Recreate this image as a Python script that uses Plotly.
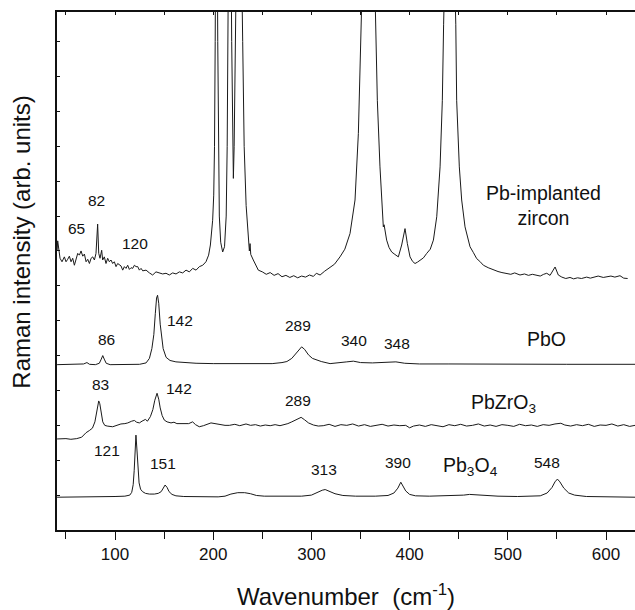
import plotly.graph_objects as go

# ---------------- data (wavenumber cm^-1, intensity arb. units, stacked) ----------------
zircon_x = [41, 41.6, 44.0, 46.0, 48.4, 50.1, 51.8, 53.5, 55.2, 56.9, 58.6, 60.3, 62.0, 63.7, 65.4, 67.1,
            68.8, 70.5, 72.2, 73.9, 75.6, 77.3, 79.0, 80.6, 82.3, 83.4, 84.7, 86.4, 87.4, 89.1, 90.8,
            92.5, 94.2, 95.9, 97.6, 99.3, 101.0, 102.7, 104.4, 106.1, 107.8, 109.5, 111.2, 112.9,
            114.6, 116.3, 118.0, 119.7, 121.4, 123.1, 124.8, 126.5, 128.2, 131.6, 135.0, 138.3,
            141.7, 145.1, 148.5, 151.9, 155.3, 158.7, 162.1, 165.5, 168.9, 172.3, 175.7, 179.1,
            182.5, 185.9, 189.3, 192.6, 195.3, 197.1, 198.4, 199.4, 200.5, 201.3, 202.0, 203.2,
            204.6, 205.2, 206.2, 207.6, 209.6, 211.5, 213.2, 214.2, 215.0, 216.8, 218.8, 219.8,
            220.5, 221.3, 222.2, 226.0, 230.0, 231.5, 233.5, 235.8, 236.8, 237.5, 238.2, 240.8,
            245.9, 250, 254, 258, 262, 266, 270, 274, 278, 282, 286, 290, 294, 298, 302, 305,
            308.8, 313.5, 318.9, 323.5, 329.1, 334, 339.3, 342, 344.4, 347.8, 350.2, 352.5, 357.5,
            363.5, 365.8, 367.1, 369.8, 371.5, 373.2, 374.0, 376.6, 379, 381.7, 385, 388.5,
            391.9, 395.3, 397.7, 400.4, 403, 405.5, 408, 410.6, 414, 417.4, 421, 424.2, 427.6,
            431.0, 433.3, 434.6, 440.8, 447.0, 447.9, 450.6, 453.0, 456.4, 459, 461.5, 465,
            468.3, 471.5, 475.1, 480, 485.3, 490, 494, 498.9, 503, 507, 512.4, 517, 521, 525,
            529.4, 533, 536.5, 539.6, 543, 546, 548.1, 551.4, 555, 559, 563.3, 567, 571, 575,
            580.3, 584, 588, 592, 597.2, 601, 605, 609, 614.2, 618, 622, 626, 629.5]
zircon_y = [8.02, 8.29, 7.79, 7.69, 7.83, 7.69, 7.76, 7.85, 7.69, 7.79, 7.59, 7.79, 7.93, 7.88, 8.00,
            7.85, 7.91, 7.69, 7.76, 7.64, 7.79, 7.83, 7.74, 7.93, 8.77, 7.93, 7.79, 8.02, 7.74,
            7.83, 7.64, 7.79, 7.69, 7.74, 7.64, 7.69, 7.55, 7.64, 7.59, 7.57, 7.45, 7.55, 7.50,
            7.59, 7.47, 7.52, 7.50, 7.59, 7.55, 7.55, 7.45, 7.50, 7.43, 7.45, 7.37, 7.31, 7.40,
            7.36, 7.34, 7.36, 7.31, 7.37, 7.34, 7.40, 7.37, 7.45, 7.40, 7.50, 7.45, 7.55, 7.59,
            7.69, 7.88, 8.17, 8.50, 8.88, 9.60, 11.0, 14.0, 22.0, 14.0, 11.0, 9.00, 8.25, 7.97,
            8.12, 9.00, 11.0, 14.0, 22.0, 14.0, 11.0, 10.08, 11.0, 14.0, 22.0, 14.0, 11.0, 9.30,
            8.31, 8.00, 8.21, 7.90, 7.74, 7.45, 7.40, 7.33, 7.38, 7.30, 7.35, 7.26, 7.30, 7.24,
            7.29, 7.23, 7.28, 7.25, 7.31, 7.27, 7.36, 7.31, 7.42, 7.54, 7.62, 7.83, 8.05, 8.50,
            8.95, 9.46, 11.37, 14.2, 17.0, 22.0, 17.0, 14.2, 12.32, 10.41, 9.46, 8.69, 8.75,
            8.31, 8.10, 7.97, 7.90, 7.83, 8.17, 8.64, 8.21, 7.83, 7.70, 7.64, 7.68, 7.74, 7.80,
            7.93, 8.05, 8.31, 8.98, 10.41, 12.32, 14.5, 22.0, 14.5, 12.32, 10.41, 9.46, 8.69,
            8.40, 8.12, 7.95, 7.78, 7.70, 7.59, 7.52, 7.45, 7.41, 7.38, 7.36, 7.33, 7.37, 7.31,
            7.34, 7.30, 7.33, 7.31, 7.28, 7.33, 7.36, 7.30, 7.42, 7.54, 7.31, 7.25, 7.21, 7.24,
            7.20, 7.23, 7.21, 7.25, 7.22, 7.26, 7.28, 7.24, 7.27, 7.28, 7.25, 7.29, 7.22, 7.21]

pbo_x = [41, 60, 68, 71.4, 74, 80, 84, 86, 87.5, 89, 91, 95, 110, 125, 131.6, 135, 137.5, 139.5,
         141, 142.3, 143.3, 144.5, 146, 147.5, 149, 152, 156, 162, 172, 182.5, 200, 230, 260,
         270, 275, 280, 284, 287, 290, 293, 297, 301, 305, 310, 319, 330, 336, 342.7, 350, 362,
         375, 386, 395, 410, 440, 500, 560, 629.5]
pbo_y = [4.74, 4.74, 4.76, 4.80, 4.75, 4.74, 4.78, 4.90, 5.00, 4.90, 4.78, 4.74, 4.74, 4.75, 4.79,
         4.92, 5.20, 5.60, 6.20, 6.65, 6.73, 6.50, 5.90, 5.50, 5.20, 4.95, 4.86, 4.82, 4.79,
         4.78, 4.77, 4.76, 4.77, 4.80, 4.83, 4.92, 5.05, 5.18, 5.25, 5.18, 5.02, 4.92, 4.87,
         4.83, 4.77, 4.79, 4.82, 4.84, 4.80, 4.79, 4.80, 4.82, 4.78, 4.76, 4.76, 4.75, 4.75, 4.75]

pbzro3_x = [41, 50, 55, 61, 66, 70.5, 73.8, 77, 79.5, 81, 82.5, 83.4, 84.5, 86, 87.5, 89.5, 92,
            97.6, 101, 106, 110, 113, 117, 119.7, 122, 124.8, 127.5, 130.9, 133, 136, 138.5,
            140.5, 142.8, 144.5, 146, 148, 150.2, 153, 157, 160, 163, 167.2, 171, 175, 179, 182,
            185.8, 190, 197.7, 203, 208, 212, 216.4, 222, 227, 233.4, 238, 243, 248, 253, 258,
            263, 268, 272, 276, 280, 285, 289.5, 293, 297, 302, 307, 312, 318, 324, 330, 336,
            342, 348, 354, 360, 366, 372, 378, 384, 390, 396, 400, 404, 410, 416, 422, 428, 434,
            440, 446, 452, 458, 464, 470, 476, 482, 488, 494, 500, 506, 512, 518, 524, 530, 536,
            542, 548, 554, 558, 564, 570, 576, 582, 588, 594, 600, 606, 612, 618, 624, 629.5]
pbzro3_y = [2.61, 2.62, 2.60, 2.62, 2.66, 2.79, 2.85, 2.92, 3.10, 3.35, 3.62, 3.70, 3.62, 3.35,
            3.10, 3.00, 2.98, 2.96, 2.99, 3.04, 3.05, 3.07, 3.12, 3.14, 3.09, 3.07, 3.12, 3.17,
            3.12, 3.25, 3.45, 3.72, 3.92, 3.75, 3.50, 3.28, 3.15, 3.10, 3.07, 3.09, 3.05, 3.05,
            3.03, 3.05, 3.10, 3.02, 2.96, 2.99, 3.07, 3.04, 3.02, 3.00, 3.00, 3.03, 2.99, 3.04,
            3.00, 3.02, 2.98, 3.01, 2.99, 3.02, 2.99, 3.01, 3.05, 3.10, 3.17, 3.23, 3.16, 3.07,
            3.01, 2.98, 2.99, 3.03, 2.97, 3.02, 3.00, 3.04, 2.98, 3.02, 2.97, 3.01, 3.03, 2.98,
            3.01, 2.99, 3.00, 2.93, 2.98, 3.01, 2.97, 3.02, 3.00, 2.96, 3.02, 2.99, 3.03, 2.98,
            3.00, 3.04, 2.98, 3.01, 2.97, 3.02, 3.00, 2.97, 3.03, 2.99, 3.01, 2.97, 3.02, 3.00,
            3.04, 3.06, 3.01, 2.98, 3.02, 2.99, 3.03, 2.97, 3.01, 3.00, 3.04, 2.98, 3.02, 2.97, 3.00]

pb3o4_x = [41, 60, 80, 100, 110, 115, 117, 118.5, 119.5, 120.5, 121.3, 122.2, 123.2, 124.5, 126,
           128, 131, 135, 140, 144, 147, 149, 151, 153, 155, 158, 162, 170, 190, 205, 212, 218,
           225, 232, 238, 244, 252, 270, 290, 300, 306, 311, 314, 318, 324, 332, 345, 365, 378,
           384, 388, 391, 393, 396, 400, 406, 420, 440, 455, 461, 470, 490, 510, 525, 533, 540,
           545, 548, 550.5, 553, 557, 562, 568, 580, 600, 629.5]
pb3o4_y = [0.94, 0.94, 0.95, 0.96, 0.97, 1.00, 1.08, 1.30, 1.70, 2.30, 2.72, 2.35, 1.75, 1.35,
           1.17, 1.10, 1.05, 1.03, 1.03, 1.05, 1.10, 1.20, 1.29, 1.22, 1.10, 1.02, 0.98, 0.96,
           0.95, 0.95, 0.97, 1.03, 1.07, 1.07, 1.04, 0.99, 0.97, 0.96, 0.97, 1.00, 1.08, 1.14,
           1.16, 1.12, 1.04, 0.99, 0.97, 0.97, 0.99, 1.06, 1.20, 1.37, 1.28, 1.12, 1.02, 0.98,
           0.97, 0.98, 1.00, 1.02, 1.00, 0.97, 0.96, 0.96, 0.98, 1.06, 1.22, 1.38, 1.46, 1.38,
           1.20, 1.06, 1.00, 0.96, 0.945, 0.94]

# peak labels: text, wavenumber, intensity
peak_labels = [("65", 61, 8.64), ("82", 81.4, 9.46), ("120", 120.4, 8.21),
               ("86", 91.5, 5.46), ("142", 166.2, 6.0), ("289", 286.7, 5.87),
               ("340", 343.7, 5.44), ("348", 387.5, 5.35),
               ("83", 84.7, 4.17), ("142", 165.5, 4.06), ("289", 286.7, 3.72),
               ("121", 92.2, 2.29), ("151", 148.6, 1.91), ("313", 313.2, 1.74),
               ("390", 387.8, 1.93), ("548", 539.6, 1.93)]
sample_labels = [("Pb-implanted<br>zircon", 536.8, 9.31), ("PbO", 539.6, 5.49),
                 ("PbZrO<sub>3</sub>", 495.4, 3.62), ("Pb<sub>3</sub>O<sub>4</sub>", 461.5, 1.82)]

x_ticks = [100, 200, 300, 400, 500, 600]
x_range = [40.9, 629.5]
y_range = [0, 14.85]

# ---------------- figure ----------------
FONT = "Liberation Sans, Arial, sans-serif"
LINE = "#1a1a1a"

fig = go.Figure()
for xs, ys in [(zircon_x, zircon_y), (pbo_x, pbo_y), (pbzro3_x, pbzro3_y), (pb3o4_x, pb3o4_y)]:
    fig.add_trace(go.Scatter(x=xs, y=ys, mode="lines", line=dict(color=LINE, width=1),
                             showlegend=False, hoverinfo="skip"))
# invisible trace to host the top axis
fig.add_trace(go.Scatter(x=[x_ticks[0]], y=[-1], xaxis="x2", mode="markers",
                         marker=dict(opacity=0), showlegend=False, hoverinfo="skip"))

annotations = []
for t, x, y in peak_labels:
    annotations.append(dict(text=t, x=x, y=y, xref="x", yref="y", showarrow=False,
                            font=dict(family=FONT, size=15.5, color="#111")))
for t, x, y in sample_labels:
    annotations.append(dict(text=t, x=x, y=y, xref="x", yref="y", showarrow=False,
                            font=dict(family=FONT, size=19.5, color="#111")))
annotations.append(dict(text="Wavenumber  (cm<sup>-1</sup>)", x=0.5, y=-0.125, xref="paper",
                        yref="paper", showarrow=False, yanchor="middle",
                        font=dict(family=FONT, size=24, color="#111")))
annotations.append(dict(text="Raman intensity (arb. units)", x=-0.062, y=0.555, xref="paper",
                        yref="paper", showarrow=False, textangle=-90, xanchor="center",
                        yanchor="middle", font=dict(family=FONT, size=24, color="#111")))

fig.update_layout(
    width=635, height=610,
    margin=dict(l=57, r=0, t=12, b=80),
    paper_bgcolor="white", plot_bgcolor="white",
    font=dict(family=FONT, color="#111"),
    xaxis=dict(range=x_range, tickvals=x_ticks, ticks="outside", ticklen=8, tickwidth=1.3,
               tickcolor="#111", showline=True, linecolor="#111", linewidth=1.8,
               showgrid=False, zeroline=False, tickfont=dict(size=17, family=FONT, color="#111"),
               minor=dict(dtick=50, tick0=0, ticks="outside", ticklen=7, tickwidth=1.3,
                          tickcolor="#111", showgrid=False)),
    xaxis2=dict(range=x_range, overlaying="x", side="top", anchor="y", ticks="inside",
                ticklen=3, tickwidth=1, tickcolor="#111", tick0=0, dtick=50,
                showticklabels=False, showline=True, linecolor="#111", linewidth=1.5,
                showgrid=False, zeroline=False),
    yaxis=dict(range=y_range, tick0=0, dtick=1, ticks="inside", ticklen=3, tickwidth=1,
               tickcolor="#111", showticklabels=False, showline=True, linecolor="#111",
               linewidth=1.8, showgrid=False, zeroline=False),
    annotations=annotations,
)

fig.write_html("out.html")
